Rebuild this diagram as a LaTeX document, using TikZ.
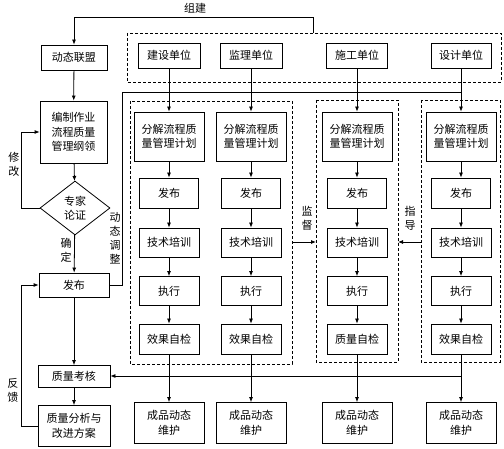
\documentclass[tikz,border=0pt]{standalone}
\usepackage{fontspec}
\newfontfamily\cjk{Noto Sans CJK SC}
\usetikzlibrary{arrows.meta,shapes.geometric}
\begin{document}
\begin{tikzpicture}[x=1pt,y=-1pt,
  font=\cjk\fontsize{11}{14.5}\selectfont,
  every path/.style={line width=0.8pt},
  bx/.style 2 args={draw, line width=0.8pt, align=center, inner sep=0pt,
    minimum width=#1pt, minimum height=#2pt},
  arr/.style={-{Latex[length=5pt,width=4pt]}},
  grp/.style={draw, dash pattern=on 3pt off 2pt, line width=0.8pt},
  lbl/.style={align=center, inner sep=0pt, font=\cjk\fontsize{11}{14}\selectfont}]
\useasboundingbox (0,0) rectangle (504,449);

% left column
\node[bx={66}{25}] (lm) at (74,57.5) {动态联盟};
\node[bx={67}{62}] (bz) at (73.5,132) {编制作业\\流程质量\\管理纲领};
\node[draw, diamond, aspect=1.3, minimum width=70pt, minimum height=54pt,
      inner sep=0pt, align=center, line width=0.8pt] (zj) at (75,208) {专家\\论证};
\node[bx={70}{24}] (fb) at (74,285) {发布};
\node[bx={72}{22}] (kh) at (74,376.5) {质量考核};
\node[bx={72}{41}] (fx) at (74,426) {质量分析与\\改进方案};

\node[lbl] (tzj) at (195,8) {组建};
\node[lbl] (txg) at (14,164.5) {修\\改};
\node[lbl] (tqd) at (66,250.5) {确\\定};
\node[lbl, font=\cjk\fontsize{11}{14}\selectfont] (tdt) at (115,238) {动\\态\\调\\整};
\node[lbl] (tfk) at (13,390.5) {反\\馈};
\node[lbl] (tjd) at (307,218.5) {监\\督};
\node[lbl] (tzd) at (410,218.5) {指\\导};

% groups
\draw[grp] (127,33) rectangle (501,82);
\draw[grp] (130,101) rectangle (292,364);
\draw[grp] (316,100) rectangle (398,362);
\draw[grp] (421,100) rectangle (500,362);

% units
\node[bx={62}{25}] (js) at (169,55.5) {建设单位};
\node[bx={62}{25}] (jl) at (251,55.5) {监理单位};
\node[bx={61}{25}] (sg) at (357,55.5) {施工单位};
\node[bx={60}{25}] (sj) at (461,55.5) {设计单位};

% columns
\foreach \c/\x/\zj in {1/169/效果自检, 2/251/效果自检, 3/357/质量自检, 4/461/效果自检} {
  \node[bx={70}{49}] (fj\c) at (\x,136.5) {分解流程质\\量管理计划};
  \node[bx={59}{30}] (fbu\c) at (\x,193) {发布};
  \node[bx={60}{29}] (px\c) at (\x,242.5) {技术培训};
  \node[bx={60}{29}] (zx\c) at (\x,291) {执行};
  \node[bx={60}{30}] (zj\c) at (\x,339) {\zj};
  \node[bx={70}{41}] (cp\c) at (\x,423) {成品动态\\维护};
  \draw[arr] (fj\c) -- (fbu\c);
  \draw[arr] (fbu\c) -- (px\c);
  \draw[arr] (px\c) -- (zx\c);
  \draw[arr] (zx\c) -- (zj\c);
  \draw[arr] (zj\c) -- (cp\c);
}
\draw[arr] (js) -- (fj1);
\draw[arr] (jl) -- (fj2);
\draw[arr] (sg) -- (fj3);
\draw[arr] (sj) -- (fj4);

% left flow
\draw[arr] (lm) -- (bz);
\draw[arr] (bz) -- (zj);
\draw[arr] (zj) -- (fb);
\draw[arr] (zj.west) -- (21,208) |- (bz.west);
\draw[arr] (fb) -- (kh);
\draw[arr] (kh) -- (fx);
\draw[arr] (fx.west) -- (21,426) |- (fb.west);

% top link
\coordinate (ttop) at (313,33);
\draw[arr] (ttop) -- (313,17) -| (lm.north);

% dynamic adjustment line
\coordinate (adjend) at (461,92);
\draw (fb.east) -| (122,92) -- (adjend);

% feedback line to quality check
\coordinate (c4) at (461,376);
\draw[arr] (c4) -- (kh.east |- c4);

% supervise / guide arrows
\coordinate (g1r) at (292,242);
\coordinate (g2l) at (316,242);
\coordinate (g3l) at (421,242);
\coordinate (g2r) at (398,242);
\draw[arr] (g1r) -- (g2l);
\draw[arr] (g3l) -- (g2r);
\end{tikzpicture}
\end{document}
